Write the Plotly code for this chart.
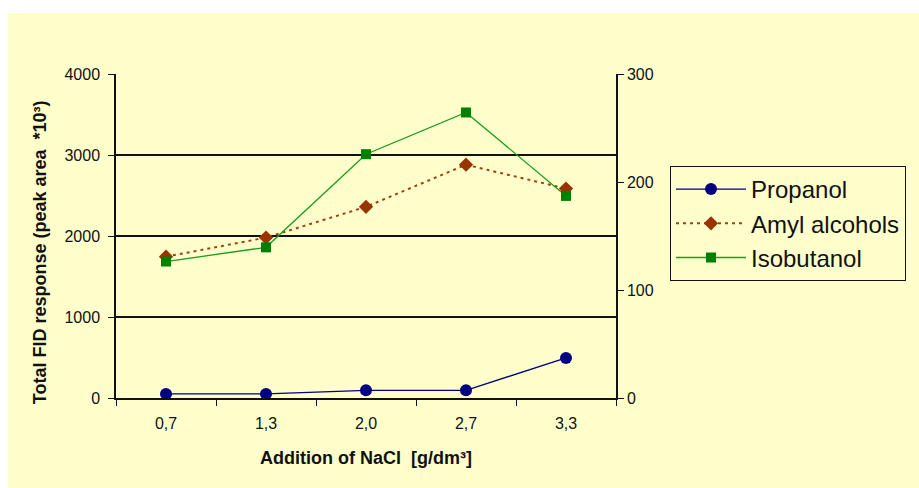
import plotly.graph_objects as go

# Data
nacl_labels = ["0,7", "1,3", "2,0", "2,7", "3,3"]
propanol = [50, 50, 95, 95, 495]
amyl_alcohols = [1745, 1980, 2360, 2880, 2585]
isobutanol = [1685, 1860, 3010, 3525, 2495]

left_ticks = [0, 1000, 2000, 3000, 4000]
right_ticks = [0, 100, 200, 300]

BG = "#FFFFCC"
FONT = "Liberation Sans, Arial, sans-serif"

fig = go.Figure()

fig.add_trace(go.Scatter(
    x=nacl_labels, y=propanol, name="Propanol", mode="lines+markers",
    line=dict(color="#000080", width=1.3),
    marker=dict(symbol="circle", size=12, color="#000080"),
    legendgroup="a",
))
fig.add_trace(go.Scatter(
    x=nacl_labels, y=amyl_alcohols, name="Amyl alcohols", mode="lines+markers",
    line=dict(color="#A0400F", width=2, dash="3px,4px"),
    marker=dict(symbol="diamond", size=11, color="#993300"),
    legendgroup="b",
))
fig.add_trace(go.Scatter(
    x=nacl_labels, y=isobutanol, name="Isobutanol", mode="lines+markers",
    line=dict(color="#1E9A1E", width=1.3),
    marker=dict(symbol="square", size=10, color="#008000"),
    legendgroup="c",
))
# empty trace so that the secondary (right) axis is drawn
fig.add_trace(go.Scatter(
    x=nacl_labels, y=[None] * len(nacl_labels), yaxis="y2",
    showlegend=False, hoverinfo="skip", mode="lines",
))

fig.update_layout(
    width=919, height=488,
    margin=dict(l=116, r=303, t=74, b=90),
    paper_bgcolor=BG, plot_bgcolor=BG,
    font=dict(family=FONT, size=16, color="#111111"),
    showlegend=True,
    legend=dict(
        x=1.108, xanchor="left", y=0.716, yanchor="top",
        bgcolor=BG, bordercolor="#111111", borderwidth=1,
        font=dict(family=FONT, size=24, color="#111111"),
        itemwidth=70, tracegroupgap=5,
        traceorder="normal",
    ),
    xaxis=dict(
        type="category", categoryorder="array", categoryarray=nacl_labels,
        range=[-0.5, 4.5],
        tickson="boundaries", ticks="outside", ticklen=6, tickcolor="#111111",
        showline=True, linecolor="#111111", linewidth=1.5,
        showgrid=False, zeroline=False,
        tickfont=dict(size=16), ticklabelstandoff=10,
        title=dict(text="<b>Addition of NaCl\u00a0 [g/dm\u00b3]</b>",
                   font=dict(size=18), standoff=20),
    ),
    yaxis=dict(
        range=[0, 4000], tickvals=left_ticks,
        ticks="outside", ticklen=6, tickcolor="#111111",
        showline=True, linecolor="#111111", linewidth=1.5,
        showgrid=True, gridcolor="#111111", gridwidth=1.5,
        zeroline=False, tickfont=dict(size=16), ticklabelstandoff=5,
    ),
    yaxis2=dict(
        overlaying="y", side="right", range=[0, 300], tickvals=right_ticks,
        ticks="outside", ticklen=6, tickcolor="#111111",
        showline=True, linecolor="#111111", linewidth=1.5,
        showgrid=False, zeroline=False, tickfont=dict(size=16),
    ),
    annotations=[
        dict(text="<b>Total FID response (peak area\u00a0 *10\u00b3)</b>",
             xref="paper", yref="paper", x=-0.152, y=0.45,
             xanchor="center", yanchor="middle", textangle=-90,
             showarrow=False, font=dict(family=FONT, size=18, color="#111111")),
    ],
    shapes=[
        # white strips at the top and left edge of the picture
        dict(type="rect", xref="paper", yref="paper",
             x0=-0.3, x1=1.7, y0=1.188, y1=1.3,
             fillcolor="white", line=dict(width=0), layer="above"),
        dict(type="rect", xref="paper", yref="paper",
             x0=-0.3, x1=-0.216, y0=-0.4, y1=1.3,
             fillcolor="white", line=dict(width=0), layer="above"),
    ],
)

fig.write_html("out.html")
